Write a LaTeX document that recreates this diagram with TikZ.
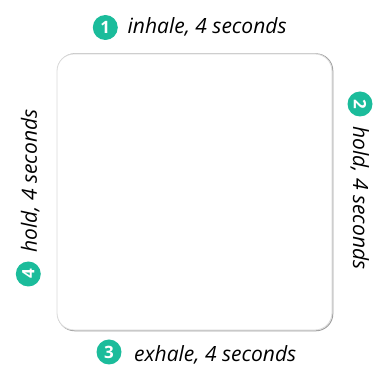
\documentclass[tikz,border=0pt]{standalone}
\usepackage{fontspec}
\setmainfont{Open Sans}
\definecolor{teal1}{HTML}{1BBC9B}
\begin{document}
\begin{tikzpicture}[x=1pt,y=1pt,
  num/.style={circle, fill=teal1, text=white, font=\bfseries\fontsize{17}{17}\selectfont, inner sep=0pt, minimum size=25pt},
  lbl/.style={font=\itshape\fontsize{21}{24}\selectfont, inner sep=0pt, anchor=base west},
  boxst/.style={draw=gray!30, fill=white, rounded corners=17pt, line width=0.8pt},
  shadowst/.style={draw=gray!75, rounded corners=17pt, line width=1pt}]
\useasboundingbox (0,0) rectangle (373,367);
% square
\draw[shadowst] (57.8,36.2) rectangle (332.8,313.2);
\draw[boxst] (57,37) rectangle (332,313);
% 1 top
\node[num] (n1) at (105.3,339.5) {1};
\node[lbl] (t1) at (127.5,333) {inhale, 4 seconds};
% 3 bottom
\node[num] (n3) at (109,15) {3};
\node[lbl] (t3) at (134,5) {exhale, 4 seconds};
% 2 right
\begin{scope}[shift={(360,263)}, rotate=-90, transform shape]
  \node[num] (n2) at (0,0) {2};
  \node[lbl] (t2) at (22,-7) {hold, 4 seconds};
\end{scope}
% 4 left
\begin{scope}[shift={(28.3,93)}, rotate=90, transform shape]
  \node[num] (n4) at (0,0) {4};
  \node[lbl] (t4) at (21,-8.7) {hold, 4 seconds};
\end{scope}
\end{tikzpicture}
\end{document}
